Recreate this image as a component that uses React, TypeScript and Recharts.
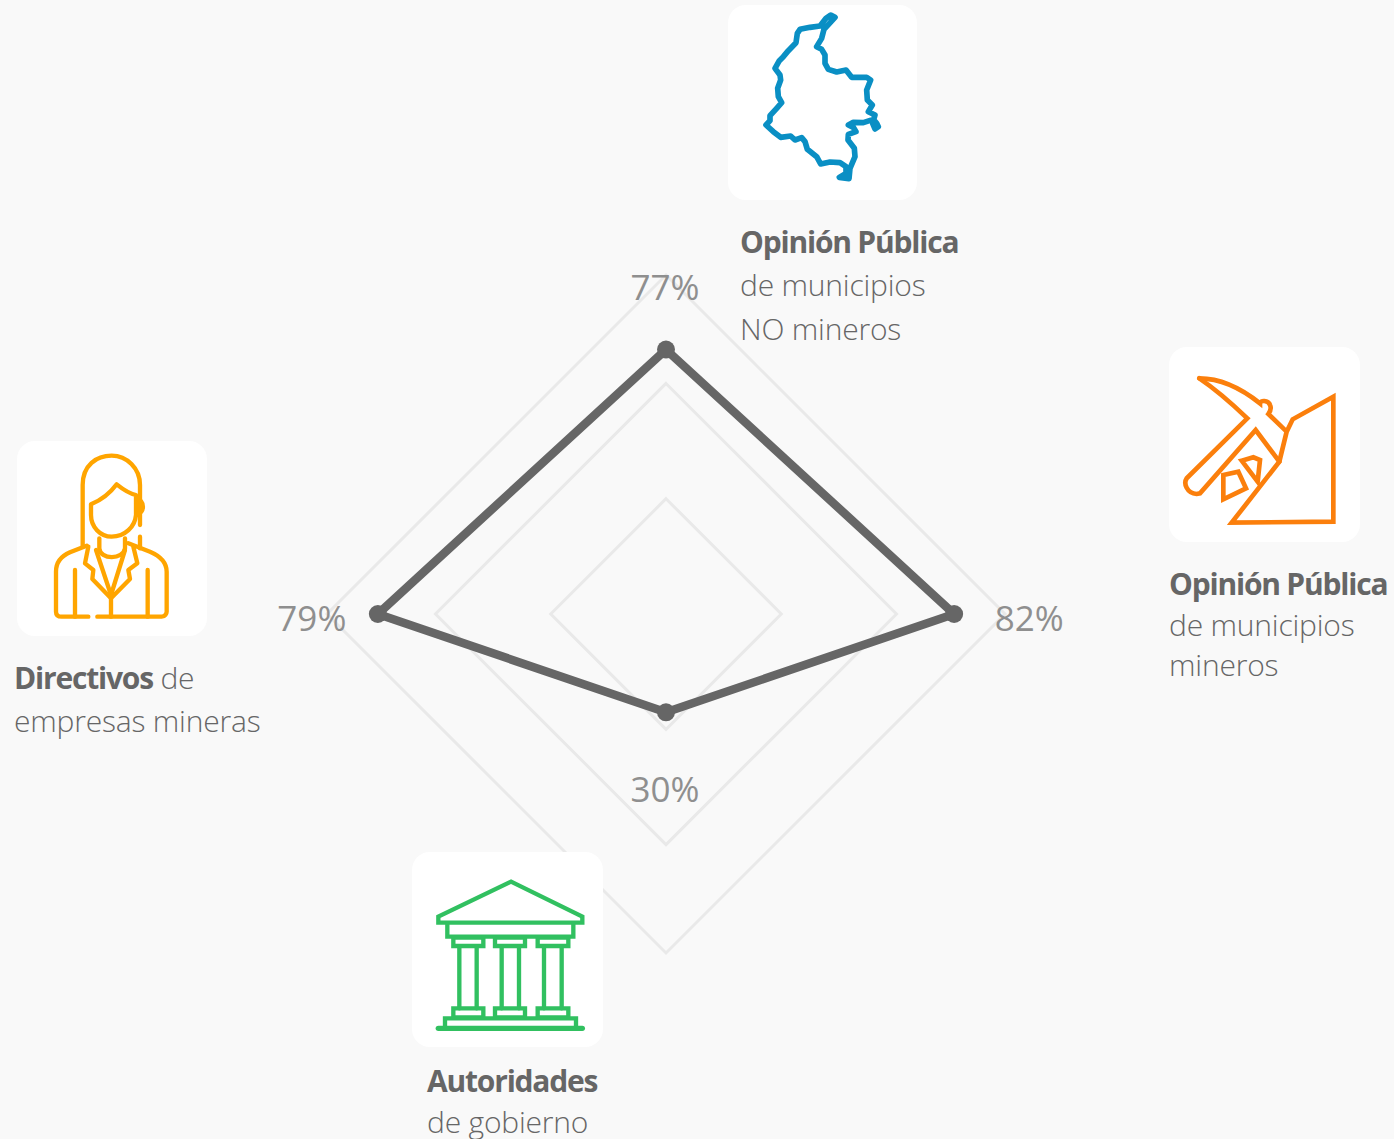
import { PolarAngleAxis, PolarGrid, PolarRadiusAxis, Radar, RadarChart } from "recharts";

// clockwise from the top
const categories = ["Opinión Pública NO mineros", "Opinión Pública mineros", "Autoridades", "Directivos"];
const printedPercent = ["77%", "82%", "30%", "79%"];
// where the marks sit on the grid's own 0-100 scale (the picture does not plot them exactly at the printed %)
const markValues = [78, 85, 29, 85];
const gridTicks = [34, 68, 100];

const chartData = categories.map((category, i) => ({ category, value: markValues[i] }));

const GRAY = "#666666";
const FONT = "'Open Sans', sans-serif";
const LABEL_OFFSETS = [
  [-1, -63],
  [75, 3],
  [-1, 76],
  [-66, 3],
];

function PercentLabel(props: any) {
  const { x, y, index } = props;
  const [dx, dy] = LABEL_OFFSETS[index];
  return (
    <text x={x + dx} y={y + dy} textAnchor="middle" dominantBaseline="central" fontFamily={FONT} fontSize={35} fill="#8f8f8f">
      {printedPercent[index]}
    </text>
  );
}

function MarkDot(props: any) {
  return <circle key={props.index} cx={props.cx} cy={props.cy} r={9} fill={GRAY} />;
}

function Card({ x, y, w, h, children }: any) {
  return <div style={{ position: "absolute", left: x, top: y, width: w, height: h, background: "#fff", borderRadius: 18 }}>{children}</div>;
}

// icon paths are traced in 3x the crop size, so each svg scales down by 3
function Icon({ x, y, color, width = 12, children }: any) {
  return (
    <svg
      viewBox="0 0 630 630"
      width={210}
      height={210}
      style={{ position: "absolute", left: x, top: y, overflow: "visible" }}
      fill="none"
      stroke={color}
      strokeWidth={width}
      strokeLinejoin="round"
      strokeLinecap="round"
    >
      {children}
    </svg>
  );
}

function Caption({ x, lines }: any) {
  return (
    <>
      {lines.map((line: any, i: number) => (
        <div
          key={i}
          style={{
            position: "absolute",
            left: x,
            top: line.y - 16,
            height: 32,
            lineHeight: "32px",
            whiteSpace: "nowrap",
            fontFamily: FONT,
            fontSize: 30,
            letterSpacing: -0.2,
            color: GRAY,
            fontWeight: 300,
          }}
        >
          {line.bold ? <span style={{ fontWeight: 700, letterSpacing: -1.2 }}>{line.bold}</span> : null}
          {line.text}
        </div>
      ))}
    </>
  );
}

export default function App() {
  return (
    <div style={{ position: "absolute", left: 0, top: 0, width: 1394, height: 1139, background: "#f9f9f9", overflow: "hidden" }}>
      <RadarChart width={1394} height={1139} data={chartData} cx={666} cy={614} outerRadius={339} margin={{ top: 0, right: 0, bottom: 0, left: 0 }}>
        <PolarGrid gridType="polygon" radialLines={false} stroke="#e9e9e9" strokeWidth={3} />
        <PolarAngleAxis dataKey="category" tick={false} axisLine={false} tickLine={false} />
        <PolarRadiusAxis domain={[0, 100]} ticks={gridTicks as any} tick={false} axisLine={false} tickLine={false} />
        <Radar
          dataKey="value"
          stroke={GRAY}
          strokeWidth={8.5}
          fill="none"
          fillOpacity={0}
          dot={MarkDot}
          label={PercentLabel}
          isAnimationActive={false}
        />
      </RadarChart>

      <Card x={728} y={5} w={189} h={195} />
      <Card x={1169} y={347} w={191} h={195} />
      <Card x={17} y={441} w={190} h={195} />
      <Card x={412} y={852} w={191} h={195} />

      <Icon x={720} y={0} color="#0a8fc4" width={17}>
        <path d="M345,52 L332,45 L318,55 L300,78 L270,82 L240,88 L232,100 L228,128 L205,152 L190,170 L178,182 L165,205 L180,225 L182,240 L173,265 L175,290 L185,308 L170,325 L150,347 L150,362 L138,375 L160,395 L182,412 L212,408 L225,420 L245,413 L255,425 L262,448 L290,470 L302,492 L330,486 L360,488 L378,500 L378,520 L358,532 L387,536 L390,505 L405,470 L403,445 L384,420 L385,403 L408,395 L400,382 L385,375 L400,367 L430,368 L460,358 L470,370 L475,380 L465,387 L458,370 L465,345 L445,335 L457,315 L442,300 L440,270 L452,240 L440,232 L395,232 L378,210 L350,216 L325,208 L315,190 L315,165 L305,148 L290,140 L305,115 L312,88 Z" />
      </Icon>

      <Icon x={1160} y={340} color="#fb7f0c" width={14}>
        <path strokeLinejoin="miter" d="M118,115 C190,115 250,150 300,190 C300,180 325,180 330,195 C335,205 330,215 325,222 L380,275 L358,365 L215,548 L520,545 L520,170 L398,238 L380,275" />
        <path strokeLinejoin="miter" d="M118,115 C170,150 215,190 262,235 L80,415 C70,430 80,460 110,462 L120,460 L287,270 L358,365" />
        <path strokeLinejoin="miter" d="M190,405 L235,395 L258,445 L190,478 Z" />
        <path strokeLinejoin="miter" d="M245,362 L280,352 L300,360 L293,425 Z" />
      </Icon>

      <Icon x={10} y={435} color="#ffa500" width={13}>
        <path d="M218,335 L218,150 C218,90 260,62 305,62 C350,62 390,100 390,150 L390,270 M390,305 L390,340" />
        <path d="M243,208 L243,240 C243,275 270,305 305,305 C345,305 375,275 378,240 L378,180 C355,175 335,160 320,148 C300,175 275,195 243,208 Z" />
        <path d="M380,190 C405,200 405,230 380,240" />
        <path d="M268,310 L268,340 C270,375 340,375 345,340 L345,310" />
        <path d="M230,332 L180,352 C150,365 138,385 138,410 L138,530 C138,540 145,545 155,545 L235,545" />
        <path d="M262,545 L455,545 C465,545 470,535 470,530 L470,410 C470,385 455,365 420,350 L355,325" />
        <path d="M235,335 L225,385 L250,405 L247,432 L303,490 L360,432 L355,405 L382,385 L370,335" />
        <path d="M258,345 L303,480 L345,345 M303,490 L303,545 M195,405 L195,545 M413,405 L413,545" />
      </Icon>

      <Icon x={405} y={845} color="#31c060" width={13}>
        <path strokeLinejoin="miter" d="M318,110 L100,215 L100,233 L532,233 L532,215 Z" />
        <path strokeLinejoin="miter" d="M127,238 L127,275 L505,275 L505,238" />
        <path strokeLinejoin="miter" d="M145,278 H235 V303 H145 Z M270,278 H360 V303 H270 Z M398,278 H490 V303 H398 Z" />
        <path strokeLinejoin="miter" d="M163,305 V490 M215,305 V490 M290,305 V490 M342,305 V490 M417,305 V490 M470,305 V490" />
        <path strokeLinejoin="miter" d="M145,490 H235 V517 H145 Z M270,490 H360 V517 H270 Z M398,490 H490 V517 H398 Z" />
        <path strokeLinejoin="miter" d="M120,545 V520 H513 V545" />
        <path strokeWidth={16} d="M100,550 H532" />
      </Icon>

      <Caption x={740} lines={[{ y: 242, bold: "Opinión Pública", text: "" }, { y: 285, text: "de municipios" }, { y: 329, text: "NO mineros" }]} />
      <Caption x={1169} lines={[{ y: 584, bold: "Opinión Pública", text: "" }, { y: 625, text: "de municipios" }, { y: 665, text: "mineros" }]} />
      <Caption x={14} lines={[{ y: 678, bold: "Directivos", text: " de" }, { y: 721, text: "empresas mineras" }]} />
      <Caption x={427} lines={[{ y: 1081, bold: "Autoridades", text: "" }, { y: 1122, text: "de gobierno" }]} />
    </div>
  );
}
